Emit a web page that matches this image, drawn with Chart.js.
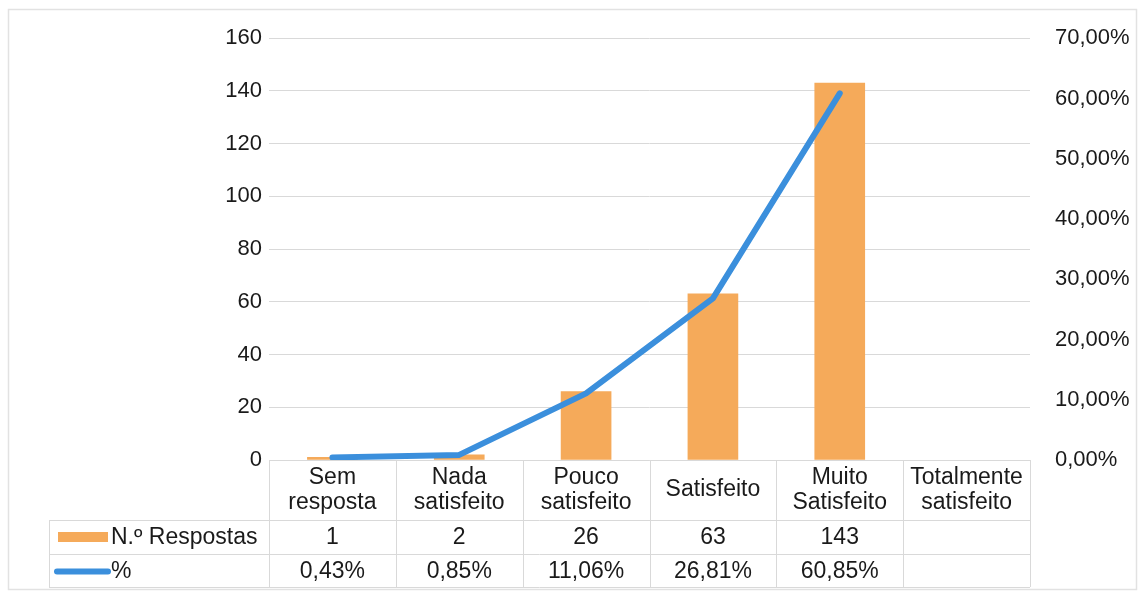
<!DOCTYPE html>
<html>
<head>
<meta charset="utf-8">
<script src="https://cdn.jsdelivr.net/npm/chart.js@4.4.1/dist/chart.umd.min.js"></script>
<style>
    body { margin: 0; background: #fff; }
    canvas { display: block; }
</style>
</head>
<body>
<canvas id="chart" width="1140" height="594"></canvas>
<script>
// Chart data
const categories = [
    ['Sem', 'resposta'],
    ['Nada', 'satisfeito'],
    ['Pouco', 'satisfeito'],
    ['Satisfeito'],
    ['Muito', 'Satisfeito'],
    ['Totalmente', 'satisfeito']
];
const respostas = [1, 2, 26, 63, 143, null];
const percentagens = [0.43, 0.85, 11.06, 26.81, 60.85, null];

const barLabel = 'N.º Respostas';
const lineLabel = '%';

const barColor = '#f5aa5a';
const lineColor = '#3b8fdc';
const gridColor = '#d9d9d9';
const textColor = '#1a1a1a';
const fontFamily = '"Liberation Sans", Arial, sans-serif';

function formatPercent(value) {
    return value.toFixed(2).replace('.', ',') + '%';
}

// Draws the frame and the data table below the plot
const tablePlugin = {
    id: 'dataTable',
    beforeDraw(chart) {
        const ctx = chart.ctx;
        ctx.save();
        ctx.strokeStyle = '#e2e2e2';
        ctx.lineWidth = 1.5;
        ctx.strokeRect(8.5, 9.5, 1128, 580);
        ctx.restore();
    },
    afterDraw(chart) {
        const ctx = chart.ctx;
        const area = chart.chartArea;
        const xScale = chart.scales.x;
        const n = categories.length;
        const colW = (area.right - area.left) / n;
        const top = area.bottom;
        const row1 = top + 60;
        const row2 = row1 + 34;
        const bottom = row2 + 33;
        const legendLeft = 49;

        ctx.save();
        ctx.strokeStyle = gridColor;
        ctx.lineWidth = 1;

        // horizontal lines
        ctx.beginPath();
        ctx.moveTo(area.left, top + 0.5);
        ctx.lineTo(area.right, top + 0.5);
        [row1, row2, bottom].forEach(y => {
            ctx.moveTo(legendLeft, y + 0.5);
            ctx.lineTo(area.right, y + 0.5);
        });
        // vertical lines
        for (let i = 0; i <= n; i++) {
            const x = Math.round(area.left + i * colW) + 0.5;
            ctx.moveTo(x, top);
            ctx.lineTo(x, bottom);
        }
        ctx.moveTo(legendLeft + 0.5, row1);
        ctx.lineTo(legendLeft + 0.5, bottom);
        ctx.stroke();

        // text
        ctx.fillStyle = textColor;
        ctx.font = '23px ' + fontFamily;
        ctx.textAlign = 'center';
        ctx.textBaseline = 'middle';
        categories.forEach((lines, i) => {
            const cx = xScale.getPixelForValue(i);
            const mid = (top + row1) / 2;
            lines.forEach((line, j) => {
                const y = mid + (j - (lines.length - 1) / 2) * 25;
                ctx.fillText(line, cx, y);
            });
            if (respostas[i] !== null) {
                ctx.fillText(String(respostas[i]), cx, (row1 + row2) / 2 + 1);
            }
            if (percentagens[i] !== null) {
                ctx.fillText(formatPercent(percentagens[i]), cx, (row2 + bottom) / 2 + 1);
            }
        });

        // legend keys
        ctx.fillStyle = barColor;
        ctx.fillRect(58, (row1 + row2) / 2 - 5, 50, 10);
        ctx.strokeStyle = lineColor;
        ctx.lineWidth = 6;
        ctx.lineCap = 'round';
        ctx.beginPath();
        ctx.moveTo(57, (row2 + bottom) / 2 + 1);
        ctx.lineTo(108, (row2 + bottom) / 2 + 1);
        ctx.stroke();

        ctx.fillStyle = textColor;
        ctx.textAlign = 'left';
        ctx.fillText(barLabel, 111, (row1 + row2) / 2 + 1);
        ctx.fillText(lineLabel, 111, (row2 + bottom) / 2 + 1);
        ctx.restore();
    }
};

const ctx = document.getElementById('chart').getContext('2d');
new Chart(ctx, {
    type: 'bar',
    data: {
        labels: categories.map(c => c.join(' ')),
        datasets: [
            {
                type: 'line',
                label: lineLabel,
                data: percentagens,
                yAxisID: 'y1',
                borderColor: lineColor,
                borderWidth: 6,
                borderCapStyle: 'round',
                borderJoinStyle: 'round',
                pointRadius: 0,
                tension: 0,
                order: 0
            },
            {
                label: barLabel,
                data: respostas,
                yAxisID: 'y',
                backgroundColor: barColor,
                barThickness: 50,
                order: 1
            }
        ]
    },
    options: {
        responsive: false,
        animation: false,
        layout: {
            padding: { top: 37, bottom: 134, left: 0, right: 0 }
        },
        plugins: {
            legend: { display: false },
            tooltip: { enabled: false }
        },
        scales: {
            x: {
                display: false,
                offset: true
            },
            y: {
                position: 'left',
                min: 0,
                max: 160,
                ticks: {
                    stepSize: 20,
                    padding: 7,
                    color: textColor,
                    font: { family: fontFamily, size: 22 }
                },
                grid: {
                    color: gridColor,
                    drawTicks: false
                },
                border: { display: false },
                afterFit: scale => { scale.width = 269; }
            },
            y1: {
                position: 'right',
                min: 0,
                max: 70,
                ticks: {
                    stepSize: 10,
                    padding: 25,
                    color: textColor,
                    font: { family: fontFamily, size: 22 },
                    callback: value => formatPercent(value)
                },
                grid: { display: false, drawTicks: false },
                border: { display: false },
                afterFit: scale => { scale.width = 110; }
            }
        }
    },
    plugins: [tablePlugin]
});
</script>
</body>
</html>
